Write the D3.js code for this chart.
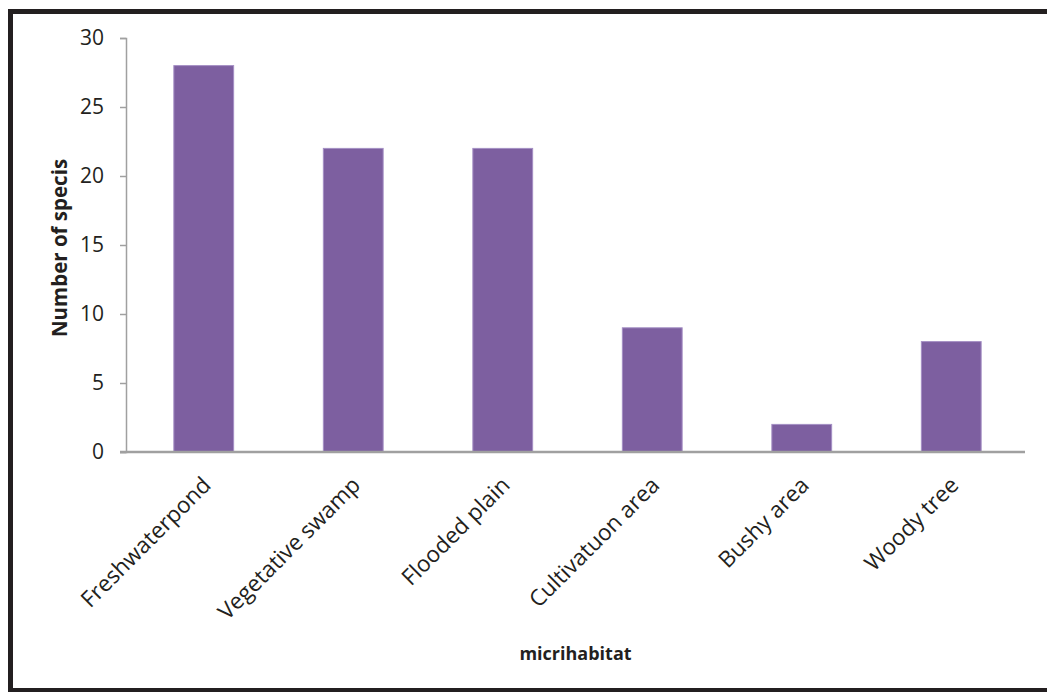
<!DOCTYPE html>
<html>
<head>
<meta charset="utf-8">
<script src="https://cdn.jsdelivr.net/npm/d3@7"></script>
<style>
  body { margin: 0; background: #fff; }
  svg { display: block; font-family: "Open Sans", sans-serif; }
</style>
</head>
<body>
<div id="chart"></div>
<script>
(() => {

// data
const habitats = ["Freshwaterpond", "Vegetative swamp", "Flooded plain", "Cultivatuon area", "Bushy area", "Woody tree"];
const species = [28, 22, 22, 9, 2, 8];
const yTicks = [0, 5, 10, 15, 20, 25, 30];

const width = 1047;
const height = 692;
const margin = {top: 38, right: 22, bottom: 240, left: 126};

const svg = d3.select("#chart")
  .append("svg")
  .attr("width", width)
  .attr("height", height);

// outer frame (top, left, bottom)
svg.append("path")
  .attr("d", `M${width},11.5 L10.5,11.5 L10.5,690.5 L${width},690.5`)
  .attr("fill", "none")
  .attr("stroke", "#231f20")
  .attr("stroke-width", 5);
svg.append("line")
  .attr("x1", 13).attr("x2", width)
  .attr("y1", 690.5).attr("y2", 690.5)
  .attr("stroke", "#231f20")
  .attr("stroke-width", 3);

const x = d3.scaleBand()
  .domain(habitats)
  .range([margin.left, width - margin.right + 4])
  .paddingInner(0.6)
  .paddingOuter(0.32);

const y = d3.scaleLinear()
  .domain([0, 30])
  .range([height - margin.bottom, margin.top]);

// bars
svg.selectAll("rect.bar")
  .data(habitats)
  .enter()
  .append("rect")
  .attr("class", "bar")
  .attr("x", d => x(d))
  .attr("width", x.bandwidth())
  .attr("y", (d, i) => y(species[i]))
  .attr("height", (d, i) => y(0) - y(species[i]))
  .attr("fill", "#7d5fa0")
  .attr("stroke", "#a58fc4")
  .attr("stroke-width", 1);

// y axis
const yAxis = svg.append("g")
  .attr("transform", `translate(${margin.left},0)`)
  .call(d3.axisLeft(y).tickValues(yTicks).tickSize(6).tickPadding(16));
yAxis.select(".domain").attr("stroke", "#a0a0a0").attr("stroke-width", 1.5);
yAxis.selectAll(".tick line").attr("stroke", "#a0a0a0").attr("stroke-width", 1.5);
yAxis.selectAll(".tick text")
  .attr("font-size", 21)
  .attr("fill", "#231f20")
  .attr("font-family", "'Open Sans', sans-serif");

// x axis line
svg.append("line")
  .attr("x1", margin.left - 6)
  .attr("x2", width - margin.right)
  .attr("y1", y(0))
  .attr("y2", y(0))
  .attr("stroke", "#a0a0a0")
  .attr("stroke-width", 2.5);

// category labels
svg.selectAll("text.cat")
  .data(habitats)
  .enter()
  .append("text")
  .attr("class", "cat")
  .attr("transform", d => `translate(${x(d) + x.bandwidth() / 2 + 3},${y(0) + 29}) rotate(-45)`)
  .attr("text-anchor", "end")
  .attr("dy", "0.35em")
  .attr("font-size", 22.5)
  .attr("fill", "#231f20")
  .text(d => d);

// axis titles
svg.append("text")
  .attr("x", (margin.left + width - margin.right) / 2)
  .attr("y", 660)
  .attr("text-anchor", "middle")
  .attr("font-size", 18)
  .attr("font-weight", "bold")
  .attr("fill", "#231f20")
  .text("micrihabitat");

svg.append("text")
  .attr("transform", `translate(67,${(y(0) + y(30)) / 2 + 3}) rotate(-90)`)
  .attr("text-anchor", "middle")
  .attr("font-size", 20.5)
  .attr("font-weight", "bold")
  .attr("fill", "#231f20")
  .text("Number of specis");

})();
</script>
</body>
</html>
